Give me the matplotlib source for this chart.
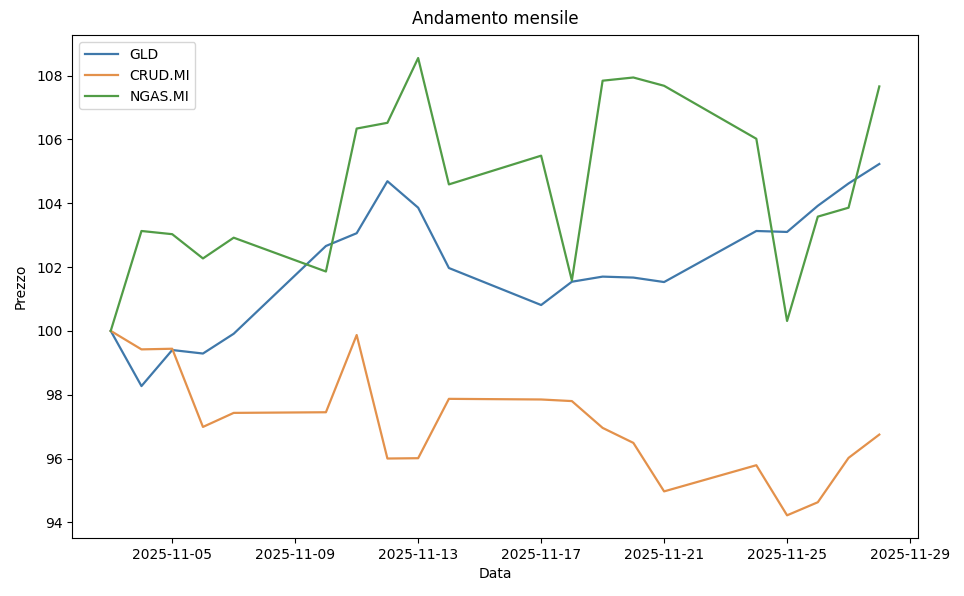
import pandas as pd
import matplotlib
matplotlib.use("Agg")
import matplotlib.pyplot as plt
import matplotlib.dates as mdates

dates = pd.to_datetime([
    "2025-11-03", "2025-11-04", "2025-11-05", "2025-11-06", "2025-11-07",
    "2025-11-10", "2025-11-11", "2025-11-12", "2025-11-13", "2025-11-14",
    "2025-11-17", "2025-11-18", "2025-11-19", "2025-11-20", "2025-11-21",
    "2025-11-24", "2025-11-25", "2025-11-26", "2025-11-27", "2025-11-28",
])

gld = [100.0, 98.27, 99.40, 99.29, 99.91,
       102.66, 103.06, 104.69, 103.86, 101.97,
       100.81, 101.54, 101.70, 101.67, 101.53,
       103.13, 103.10, 103.92, 104.62, 105.23]
crud = [100.0, 99.42, 99.44, 96.99, 97.43,
        97.45, 99.87, 96.00, 96.01, 97.87,
        97.85, 97.80, 96.96, 96.49, 94.97,
        95.79, 94.22, 94.63, 96.02, 96.75]
ngas = [100.0, 103.13, 103.03, 102.27, 102.92,
        101.86, 106.34, 106.52, 108.55, 104.59,
        105.49, 101.58, 107.84, 107.94, 107.68,
        106.02, 100.31, 103.58, 103.86, 107.66]

series = {"GLD": gld, "CRUD.MI": crud, "NGAS.MI": ngas}
colors = ["#3f78aa", "#e3914b", "#519c46"]

fig, ax = plt.subplots(figsize=(9.64, 5.96), dpi=100)
fig.subplots_adjust(left=0.075, right=0.952, top=0.941, bottom=0.097)

for (name, vals), c in zip(series.items(), colors):
    ax.plot(dates, vals, label=name, color=c, linewidth=1.6)

ax.xaxis.set_major_locator(mdates.DayLocator(bymonthday=range(1, 32, 4)))
ax.xaxis.set_major_formatter(mdates.DateFormatter("%Y-%m-%d"))
ax.set_yticks(range(94, 109, 2))

ax.set_title("Andamento mensile", pad=8)
ax.set_xlabel("Data")
ax.set_ylabel("Prezzo", labelpad=6)
ax.legend(loc="upper left", handlelength=2.4)

fig.savefig("out.png")
